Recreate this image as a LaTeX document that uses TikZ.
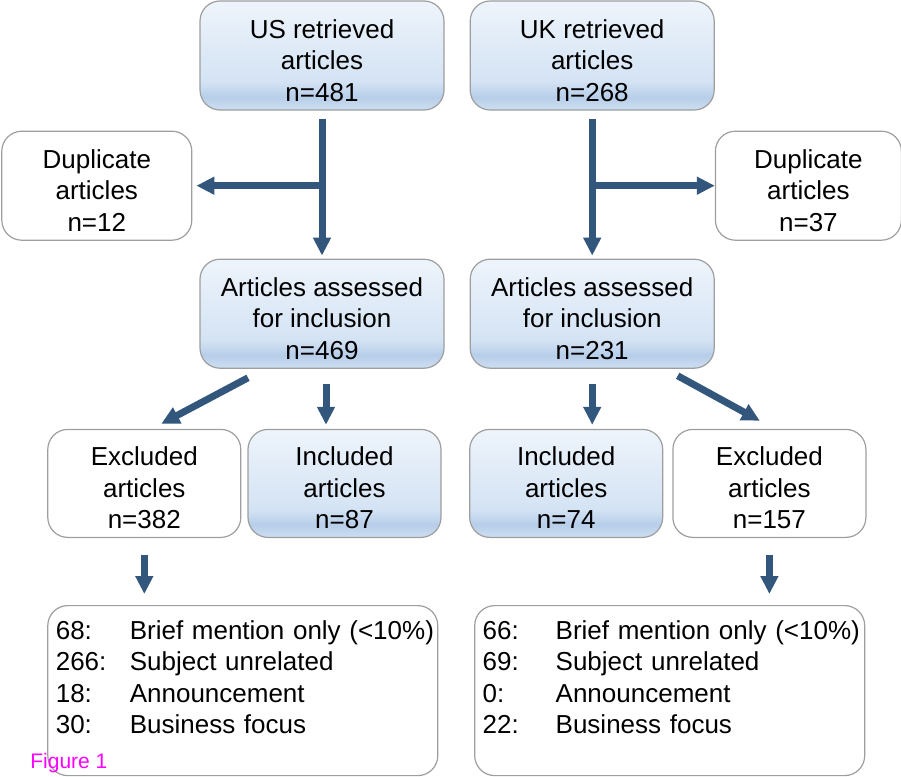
\documentclass[tikz,border=0pt]{standalone}
\usepackage{fontspec}
\setmainfont{Liberation Sans}
\usetikzlibrary{arrows.meta, positioning}

\definecolor{arrowblue}{RGB}{50,86,124}
\definecolor{edgegray}{RGB}{158,158,158}
\definecolor{figmagenta}{RGB}{255,0,255}
\definecolor{shadebot}{RGB}{205,222,241}
\definecolor{shadeband}{RGB}{183,206,233}
\definecolor{shademid}{RGB}{212,227,244}
\definecolor{shadetop}{RGB}{238,244,251}
\pgfdeclareverticalshading{boxfill}{100bp}{color(0bp)=(shadebot); color(25bp)=(shadebot);
  color(31bp)=(shadeband); color(38bp)=(shademid); color(75bp)=(shadetop); color(100bp)=(shadetop)}

\begin{document}
\begin{tikzpicture}[
    font=\fontsize{26}{31.5}\selectfont,
    box/.style={
      draw=edgegray, line width=1.2pt, rounded corners=20pt,
      align=center, inner sep=2pt
    },
    textbox/.style={box, text height=96pt, text depth=5pt},
    bigbox/.style={textbox, shading=boxfill, minimum width=244pt, minimum height=109pt},
    dupbox/.style={textbox, minimum width=190pt, minimum height=109pt},
    incbox/.style={textbox, shading=boxfill, minimum width=193pt, minimum height=108pt},
    excbox/.style={textbox, minimum width=193pt, minimum height=108pt},
    listbox/.style={
      box, anchor=north west, align=left,
      text width=374pt, inner xsep=8pt, inner ysep=0pt, minimum height=170pt
    },
    arr/.style={-{Triangle[width=17pt,length=18pt]}, line width=7pt, draw=arrowblue}
  ]
  \useasboundingbox (0,0) rectangle (901pt,-776pt);

  % ===== Retrieved =====
  \node[bigbox] (usret) at (322pt,-55.5pt) {US retrieved\\articles\\n=481};
  \node[bigbox, right=25pt of usret] (ukret) {UK retrieved\\articles\\n=268};

  % ===== Duplicates =====
  \node[dupbox, below left=20pt and 7pt of usret] (usdup) {Duplicate\\articles\\n=12};
  \node[dupbox, minimum width=186pt, below right=20pt and 0pt of ukret] (ukdup) {Duplicate\\articles\\n=37};

  % ===== Assessed =====
  \node[bigbox, below=148pt of usret] (usass) {Articles assessed\\for inclusion\\n=469};
  \node[bigbox, below=148pt of ukret] (ukass) {Articles assessed\\for inclusion\\n=231};

  % ===== Included / excluded =====
  \node[incbox, below=60pt of usass, xshift=22.5pt] (usinc) {Included\\articles\\n=87};
  \node[excbox, left=6pt of usinc] (usexc) {Excluded\\articles\\n=382};
  \node[incbox, below=60pt of ukass, xshift=-26pt] (ukinc) {Included\\articles\\n=74};
  \node[excbox, right=9pt of ukinc] (ukexc) {Excluded\\articles\\n=157};

  % ===== Reasons =====
  \node[listbox, below right=67pt and 0pt of usexc.south west] (uslist) {%
    \begin{tabular}{@{}p{74pt}@{}l@{}}
      68:  & Brief mention only (<10\%)\\
      266: & Subject unrelated\\
      18:  & Announcement\\
      30:  & Business focus\\[21pt]
    \end{tabular}};
  \node[listbox, below right=67pt and 5pt of ukinc.south west] (uklist) {%
    \begin{tabular}{@{}p{73pt}@{}l@{}}
      66: & Brief mention only (<10\%)\\
      69: & Subject unrelated\\
      0:  & Announcement\\
      22: & Business focus\\[21pt]
    \end{tabular}};

  \node[font=\fontsize{21}{24}\selectfont, text=figmagenta, anchor=base west, inner sep=0pt]
    (figlabel) at ([xshift=-17pt,yshift=8pt]uslist.south west) {Figure 1};

  % Connections
  \coordinate (usjoin) at (usret.south |- usdup.east);
  \coordinate (ukjoin) at (ukret.south |- ukdup.west);
  \draw[arr, shorten <=8pt, shorten >=3pt] (usret.south) -- (usass.north);
  \draw[arr, shorten <=8pt, shorten >=3pt] (ukret.south) -- (ukass.north);
  \draw[arr, shorten >=4pt] (usjoin) -- (usdup.east);
  \draw[arr] (ukjoin) -- (ukdup.west);

  \draw[arr] ([xshift=-74pt,yshift=-9pt]usass.south) -- ([xshift=17pt,yshift=5pt]usexc.north);
  \draw[arr] ([xshift=4pt,yshift=-15pt]usass.south) -- ([xshift=-18.5pt,yshift=4pt]usinc.north);
  \draw[arr] ([yshift=-15pt]ukass.south) -- ([xshift=26pt,yshift=4pt]ukinc.north);
  \draw[arr] ([xshift=85.5pt,yshift=-7pt]ukass.south) -- ([xshift=-9.5pt,yshift=8pt]ukexc.north);

  \draw[arr, shorten <=17pt, shorten >=11pt] (usexc.south) -- (usexc.south |- uslist.north);
  \draw[arr, shorten <=17pt, shorten >=11pt] (ukexc.south) -- (ukexc.south |- uklist.north);
\end{tikzpicture}
\end{document}
